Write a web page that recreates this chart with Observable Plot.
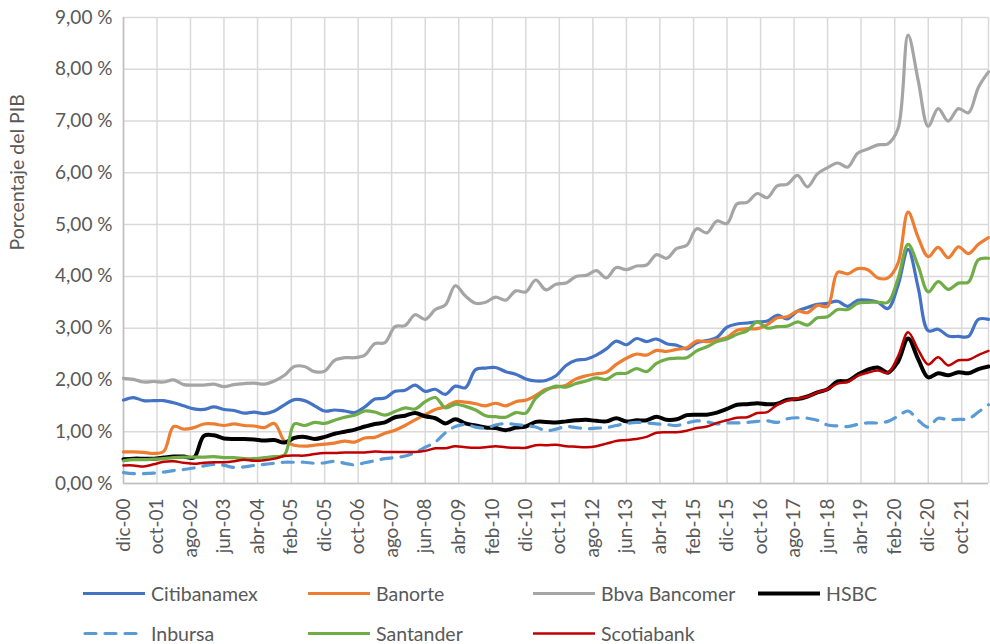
<!DOCTYPE html>
<html><head><meta charset="utf-8">
<script src="https://cdn.jsdelivr.net/npm/d3@7"></script>
<script src="https://cdn.jsdelivr.net/npm/@observablehq/plot@0.6"></script>
<style>
body{margin:0;background:#fff;font-family:Lato, sans-serif;}
#wrap{position:relative;width:990px;height:644px;background:#fff;}
.leg{position:absolute;display:flex;align-items:center;font-size:19.5px;color:#595959;transform:translateY(-50%);white-space:nowrap;}
.leg svg{margin-right:6px;}
</style></head><body><div id="wrap"></div>
<script>
const seriesNames = ["Citibanamex","Banorte","Bbva Bancomer","HSBC","Inbursa","Santander","Scotiabank"];
const seriesColors = ["#4472C4","#ED7D31","#A5A5A5","#000000","#5B9BD5","#70AD47","#C00000"];
const seriesWidths = [3.2,3.2,3.2,4,3.2,3.2,2.5];

const citibanamex = [1.61,1.66,1.60,1.60,1.60,1.56,1.50,1.44,1.43,1.48,
1.43,1.41,1.36,1.38,1.35,1.40,1.52,1.62,1.60,1.50,
1.40,1.42,1.40,1.37,1.48,1.63,1.65,1.78,1.80,1.90,
1.78,1.82,1.72,1.88,1.85,2.20,2.23,2.24,2.16,2.11,
2.02,1.98,1.99,2.08,2.28,2.38,2.40,2.48,2.60,2.75,
2.68,2.80,2.74,2.79,2.70,2.67,2.60,2.72,2.76,2.82,
3.02,3.08,3.10,3.12,3.14,3.25,3.18,3.33,3.40,3.46,
3.48,3.52,3.42,3.54,3.54,3.50,3.38,3.82,4.52,3.78,
2.95,2.98,2.85,2.84,2.84,3.17,3.17];
const banorte = [0.61,0.61,0.60,0.58,0.62,1.10,1.05,1.08,1.15,1.15,
1.12,1.15,1.12,1.11,1.08,1.16,0.82,0.74,0.72,0.74,
0.76,0.78,0.82,0.80,0.88,0.89,0.97,1.03,1.12,1.23,
1.33,1.43,1.48,1.58,1.57,1.54,1.50,1.55,1.50,1.58,
1.61,1.70,1.82,1.86,1.90,2.02,2.08,2.12,2.15,2.30,
2.42,2.50,2.48,2.57,2.55,2.59,2.62,2.75,2.74,2.77,
2.82,2.96,2.99,2.99,3.07,3.20,3.22,3.33,3.30,3.44,
3.42,4.08,4.05,4.15,4.13,3.97,3.97,4.25,5.24,4.75,
4.38,4.56,4.36,4.57,4.44,4.62,4.75];
const bbvaBancomer = [2.03,2.01,1.96,1.97,1.96,2.00,1.91,1.90,1.90,1.92,
1.87,1.91,1.93,1.94,1.92,1.98,2.09,2.26,2.26,2.16,
2.17,2.38,2.43,2.43,2.48,2.70,2.72,3.03,3.05,3.26,
3.17,3.36,3.45,3.82,3.62,3.48,3.50,3.60,3.54,3.72,
3.70,3.93,3.74,3.85,3.87,4.00,4.02,4.11,3.97,4.17,
4.13,4.20,4.22,4.42,4.35,4.54,4.60,4.92,4.84,5.07,
5.02,5.40,5.43,5.60,5.52,5.75,5.78,5.95,5.73,5.98,
6.10,6.19,6.11,6.38,6.46,6.54,6.56,6.85,8.66,7.78,
6.90,7.24,7.00,7.24,7.16,7.65,7.95];
const hsbc = [0.47,0.48,0.48,0.48,0.50,0.52,0.52,0.50,0.92,0.93,
0.87,0.86,0.86,0.85,0.83,0.84,0.79,0.88,0.90,0.86,
0.90,0.96,1.00,1.04,1.10,1.15,1.18,1.28,1.31,1.36,
1.30,1.26,1.16,1.24,1.16,1.12,1.08,1.07,1.03,1.08,
1.10,1.19,1.19,1.18,1.20,1.22,1.23,1.21,1.20,1.26,
1.20,1.22,1.22,1.29,1.23,1.24,1.32,1.33,1.33,1.37,
1.44,1.52,1.53,1.55,1.53,1.54,1.62,1.63,1.68,1.76,
1.82,1.97,1.98,2.10,2.20,2.24,2.14,2.35,2.80,2.40,
2.05,2.13,2.09,2.15,2.13,2.21,2.26];
const inbursa = [0.21,0.19,0.19,0.20,0.22,0.25,0.27,0.30,0.34,0.37,
0.35,0.31,0.32,0.35,0.37,0.39,0.41,0.41,0.41,0.39,
0.40,0.43,0.39,0.36,0.40,0.44,0.48,0.50,0.53,0.60,
0.70,0.80,0.98,1.10,1.14,1.09,1.07,1.13,1.16,1.14,
1.12,1.09,1.02,1.05,1.10,1.08,1.06,1.07,1.08,1.12,
1.16,1.18,1.17,1.15,1.14,1.12,1.17,1.21,1.19,1.15,
1.17,1.17,1.18,1.20,1.21,1.18,1.25,1.27,1.26,1.22,
1.13,1.11,1.10,1.14,1.17,1.17,1.20,1.30,1.40,1.22,
1.09,1.26,1.23,1.24,1.25,1.38,1.52];
const santander = [0.44,0.46,0.46,0.47,0.48,0.50,0.51,0.51,0.51,0.52,
0.50,0.50,0.48,0.48,0.50,0.52,0.55,1.15,1.12,1.18,
1.16,1.22,1.28,1.32,1.40,1.38,1.32,1.39,1.46,1.44,
1.58,1.66,1.46,1.53,1.49,1.42,1.31,1.29,1.28,1.37,
1.36,1.65,1.80,1.88,1.86,1.93,1.98,2.04,2.01,2.12,
2.13,2.22,2.16,2.32,2.40,2.42,2.43,2.56,2.64,2.74,
2.79,2.88,2.95,3.12,3.00,3.03,3.04,3.12,3.06,3.20,
3.22,3.36,3.36,3.48,3.50,3.50,3.50,3.95,4.62,4.20,
3.70,3.90,3.75,3.87,3.89,4.32,4.35];
const scotiabank = [0.35,0.35,0.33,0.37,0.42,0.43,0.40,0.38,0.40,0.41,
0.41,0.43,0.46,0.44,0.45,0.48,0.53,0.54,0.54,0.57,
0.59,0.59,0.60,0.60,0.60,0.62,0.61,0.61,0.61,0.61,
0.63,0.68,0.68,0.72,0.70,0.69,0.70,0.72,0.70,0.69,
0.69,0.74,0.74,0.75,0.72,0.71,0.70,0.72,0.77,0.82,
0.84,0.86,0.90,0.98,0.99,0.99,1.02,1.07,1.10,1.17,
1.22,1.27,1.28,1.36,1.38,1.52,1.60,1.64,1.68,1.76,
1.82,1.93,1.96,2.08,2.14,2.18,2.14,2.45,2.92,2.58,
2.30,2.44,2.28,2.38,2.39,2.48,2.56];

const xTickLabels = ["dic-00","oct-01","ago-02","jun-03","abr-04","feb-05","dic-05","oct-06","ago-07","jun-08","abr-09","feb-10","dic-10","oct-11","ago-12","jun-13","abr-14","feb-15","dic-15","oct-16","ago-17","jun-18","abr-19","feb-20","dic-20","oct-21"];
const yTicks = [0,1,2,3,4,5,6,7,8,9];
const yLabel = "Porcentaje del PIB";

const monthAbbr = ["ene","feb","mar","abr","may","jun","jul","ago","sep","oct","nov","dic"];
const allSeries = [citibanamex, banorte, bbvaBancomer, hsbc, inbursa, santander, scotiabank];
// quarterly observations starting December 2000
const dates = citibanamex.map((_, i) => new Date(2000, 11 + 3 * i, 1));
const parseLabel = s => { const [m, y] = s.split("-"); return new Date(2000 + +y, monthAbbr.indexOf(m), 1); };
const tickDates = xTickLabels.map(parseLabel);
const labelByTime = new Map(tickDates.map((d, i) => [+d, xTickLabels[i]]));

const rows = [];
allSeries.forEach((vals, s) => vals.forEach((v, i) => rows.push({series: seriesNames[s], date: dates[i], value: v})));

const xDomain = [dates[0], dates[dates.length - 1]];
const textColor = "#595959";

const lineMarks = seriesNames.map((name, s) => Plot.line(rows.filter(r => r.series === name), {
  x: "date", y: "value", stroke: seriesColors[s], strokeWidth: seriesWidths[s],
  curve: "catmull-rom", strokeLinejoin: "round", strokeLinecap: "round",
  strokeDasharray: name === "Inbursa" ? "11,9" : null
}));

const chart = Plot.plot({
  width: 990, height: 560,
  marginLeft: 123, marginRight: 2, marginTop: 17, marginBottom: 77,
  style: {fontFamily: "Lato, sans-serif", background: "white", color: textColor},
  x: {type: "time", domain: xDomain},
  y: {domain: [0, 9]},
  marks: [
    Plot.ruleY(yTicks, {y: d => d, stroke: "#d9d9d9", strokeWidth: 1.5}),
    Plot.ruleX(tickDates, {x: d => d, stroke: "#d9d9d9", strokeWidth: 1.5}),
    Plot.ruleX([xDomain[1]], {x: d => d, stroke: "#d9d9d9", strokeWidth: 1.5}),
    Plot.ruleX([xDomain[0]], {x: d => d, stroke: "#bfbfbf", strokeWidth: 1.5}),
    Plot.ruleY([0], {y: d => d, stroke: "#bfbfbf", strokeWidth: 1.5}),
    Plot.axisY({ticks: yTicks, tickFormat: d => d.toFixed(2).replace(".", ",") + " %", tickSize: 0, tickPadding: 11, fontSize: 19, fill: textColor, label: null}),
    Plot.axisX({ticks: tickDates, tickFormat: d => labelByTime.get(+d), tickRotate: -90, tickSize: 0, tickPadding: 15, fontSize: 19, fill: textColor, label: null}),
    Plot.text([yLabel], {text: d => d, frameAnchor: "left", rotate: -90, dx: -106, fontSize: 19.5, fill: textColor}),
    ...lineMarks
  ]
});

const wrap = document.getElementById("wrap");
wrap.appendChild(chart);

const legendRowY = [593, 633];
const legendColX = [83, 308, 533, 758];
seriesNames.forEach((name, s) => {
  const row = s < 4 ? 0 : 1, col = s % 4;
  const item = document.createElement("div");
  item.className = "leg";
  item.style.left = legendColX[col] + "px";
  item.style.top = legendRowY[row] + "px";
  const dash = name === "Inbursa" ? 'stroke-dasharray="11,9" stroke-linecap="round"' : '';
  item.innerHTML = `<svg width="62" height="10"><line x1="${name === "Inbursa" ? 2 : 0}" y1="5" x2="${name === "Inbursa" ? 60 : 62}" y2="5" stroke="${seriesColors[s]}" stroke-width="${seriesWidths[s]}" ${dash}/></svg><span>${name}</span>`;
  wrap.appendChild(item);
});
</script></body></html>
